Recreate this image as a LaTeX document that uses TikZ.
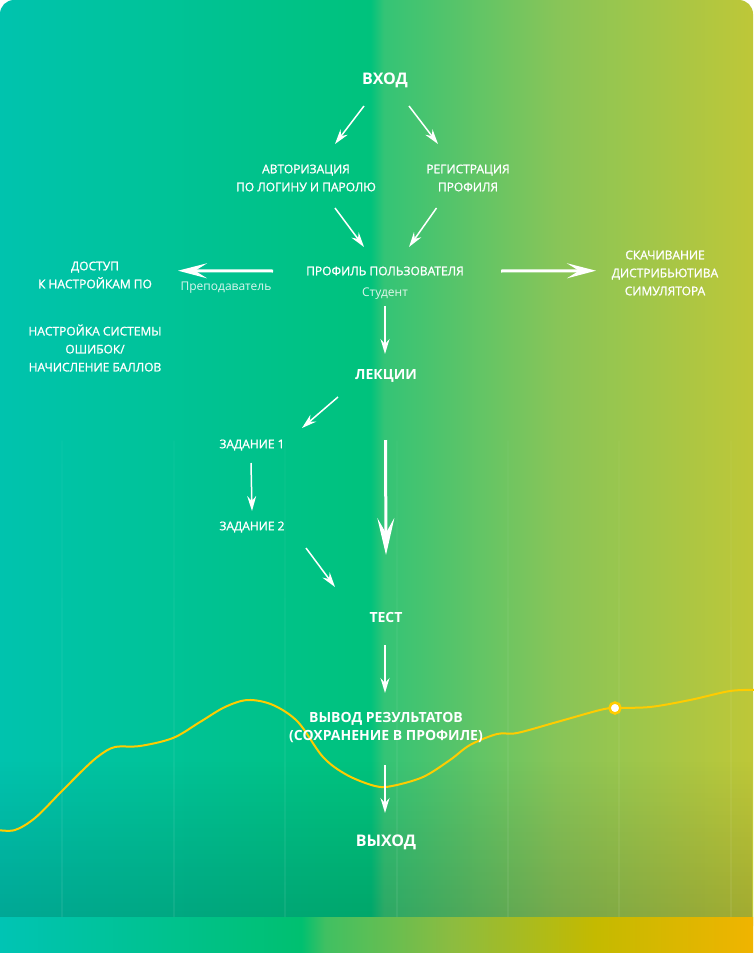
\documentclass[tikz,border=0pt]{standalone}
\usepackage{fontspec}
\setmainfont{Open Sans}
\newfontfamily\semib[FakeBold=1.2]{Open Sans}
\usetikzlibrary{arrows.meta,fadings,calc}
\definecolor{cA}{RGB}{0,195,174}
\definecolor{cB}{RGB}{0,194,124}
\definecolor{cC}{RGB}{52,196,118}
\definecolor{cD}{RGB}{136,197,88}
\definecolor{cE}{RGB}{190,199,56}
\definecolor{bA}{RGB}{0,196,180}
\definecolor{bB}{RGB}{0,192,112}
\definecolor{bC}{RGB}{64,192,98}
\definecolor{bD}{RGB}{140,188,64}
\definecolor{bE}{RGB}{196,186,0}
\definecolor{bF}{RGB}{240,180,0}
\definecolor{curve}{RGB}{255,204,0}
\pgfdeclarehorizontalshading{mainbg}{100bp}{color(0bp)=(cA); color(25bp)=(cA); color(49.6bp)=(cB); color(50.5bp)=(cC); color(62bp)=(cD); color(75bp)=(cE); color(100bp)=(cE)}
\pgfdeclarehorizontalshading{bandbg}{100bp}{color(0bp)=(bA); color(25bp)=(bA); color(45bp)=(bB); color(46.6bp)=(bC); color(55bp)=(bD); color(64.5bp)=(bE); color(75bp)=(bF); color(100bp)=(bF)}
\tikzfading[name=darkbot, top color=transparent!100, bottom color=transparent!0]
\tikzfading[name=gridfade, top color=transparent!70, bottom color=transparent!0]
\tikzset{
  lbl/.style={text=white, font=\semib\fontsize{12}{18}\selectfont, align=center, inner sep=0pt},
  hd/.style={text=white, font=\bfseries\fontsize{16}{20}\selectfont, inner sep=0pt},
  hdm/.style={text=white, font=\bfseries\fontsize{14}{18}\selectfont, inner sep=0pt},
  hds/.style={text=white, font=\bfseries\fontsize{14}{18}\selectfont, align=center, inner sep=0pt},
  sm/.style={text=white, text opacity=0.85, font=\fontsize{12}{14}\selectfont, inner sep=0pt},
  arr/.style={draw=white, line width=1.5pt, -{Stealth[length=15pt,width=9pt,inset=5pt]}},
  bigarr/.style={draw=white, line width=3pt, -{Stealth[length=29pt,width=15pt,inset=12pt]}},
  tallarr/.style={draw=white, line width=3pt, -{Stealth[length=37pt,width=17pt,inset=15pt]}},
  gridline/.style={fill=white, fill opacity=0.18}
}
\begin{document}
\begin{tikzpicture}[x=1pt,y=-1pt]
\useasboundingbox (0,0) rectangle (753,953);
\fill[white] (0,0) rectangle (753,953);
% backgrounds
\shade[shading=mainbg, rounded corners=14pt] (0,0) rectangle (753,940);
\fill[black, fill opacity=0.14, path fading=darkbot] (0,760) rectangle (753,917);
\shade[shading=bandbg] (0,917) rectangle (753,953);
\fill[gridline, path fading=gridfade] foreach \gx in {62,174,285,397,508,619,731} {(\gx-0.45,440) rectangle (\gx+0.45,917)};
% curve
\draw[curve, line width=2pt] plot[smooth, tension=0.55] coordinates {(-2,830) (15,830) (35,818) (60,793) (85,768) (100,755) (115,747) (140,746) (173,738) (200,722) (225,707) (248,700) (273,705) (298,722) (323,757) (347,775) (375,786) (392,786) (423,777) (450,760) (470,745) (497,734) (517,733) (557,722) (600,710) (615,708) (650,707) (690,700) (730,691) (755,690)};
\node[circle, draw=curve, line width=2.5pt, fill=white, minimum size=11pt, inner sep=0pt] (mark) at (615,708) {};
% nodes
\node[hd] (vhod) at (385,80) {ВХОД};
\node[lbl] (avt) at (306,178) {АВТОРИЗАЦИЯ\\ПО ЛОГИНУ И ПАРОЛЮ};
\node[lbl] (reg) at (468,178) {РЕГИСТРАЦИЯ\\ПРОФИЛЯ};
\node[lbl] (prof) at (385,271) {ПРОФИЛЬ ПОЛЬЗОВАТЕЛЯ};
\node[sm] (stud) at (385,294) {Студент};
\node[sm] (prep) at (226,288) {Преподаватель};
\node[lbl] (dostup) at (95,275) {ДОСТУП\\К НАСТРОЙКАМ ПО};
\node[lbl] (nastr) at (95,348) {НАСТРОЙКА СИСТЕМЫ\\ОШИБОК/\\НАЧИСЛЕНИЕ БАЛЛОВ};
\node[lbl] (skach) at (665,273) {СКАЧИВАНИЕ\\ДИСТРИБЬЮТИВА\\СИМУЛЯТОРА};
\node[hdm] (lek) at (386,376) {ЛЕКЦИИ};
\node[lbl] (z1) at (252,445) {ЗАДАНИЕ 1};
\node[lbl] (z2) at (252,527) {ЗАДАНИЕ 2};
\node[hdm] (test) at (386,617) {ТЕСТ};
\node[hds] (vyvod) at (386,728) {ВЫВОД РЕЗУЛЬТАТОВ\\(СОХРАНЕНИЕ В ПРОФИЛЕ)};
\node[hd] (vyhod) at (386,842) {ВЫХОД};
% connectors
\draw[arr] ([shift={(-21,26)}]vhod.center) -- ([shift={(29,-34)}]avt.center);
\draw[arr] ([shift={(24,26)}]vhod.center) -- ([shift={(-30,-34)}]reg.center);
\draw[arr] ([shift={(29,30)}]avt.center) -- ([shift={(-21,-24)}]prof.center);
\draw[arr] ([shift={(-31.5,30)}]reg.center) -- ([shift={(24,-24)}]prof.center);
\draw[bigarr] ([shift={(-112,0)}]prof.center) -- ([shift={(83,-4.3)}]dostup.center);
\draw[bigarr] ([shift={(116,0)}]prof.center) -- ([shift={(-69,-2.3)}]skach.center);
\draw[arr] ([shift={(0,12)}]stud.center) -- ([shift={(-1,-22)}]lek.center);
\draw[arr] ([shift={(-48,21)}]lek.center) -- ([shift={(50,-17)}]z1.center);
\draw[tallarr] ([shift={(-0.5,64)}]lek.center) -- ([shift={(0,-62)}]test.center);
\draw[arr] ([shift={(-1,18)}]z1.center) -- ([shift={(0,-16)}]z2.center);
\draw[arr] ([shift={(54,21)}]z2.center) -- ([shift={(-51,-30)}]test.center);
\draw[arr] ([shift={(-1,28)}]test.center) -- ([shift={(-1,-35)}]vyvod.center);
\draw[arr] ([shift={(-1,37)}]vyvod.center) -- ([shift={(-1,-29)}]vyhod.center);
\end{tikzpicture}
\end{document}
